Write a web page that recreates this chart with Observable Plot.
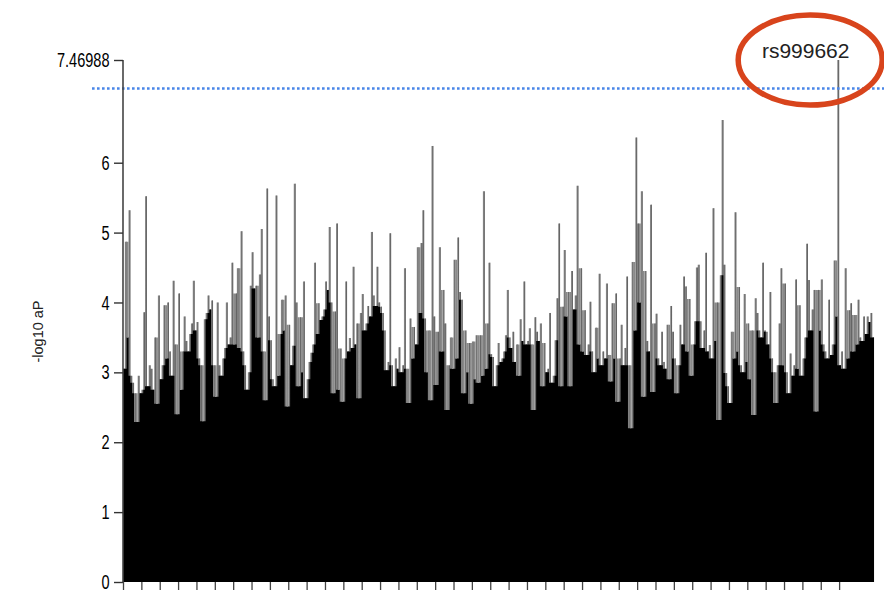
<!DOCTYPE html>
<html>
<head>
<meta charset="utf-8">
<script src="https://cdn.jsdelivr.net/npm/d3@7"></script>
<script src="https://cdn.jsdelivr.net/npm/@observablehq/plot@0.6"></script>
<style>
  html, body { margin: 0; padding: 0; background: #fff; }
  #chart { width: 884px; height: 593px; }
</style>
</head>
<body>
<div id="chart"></div>
<script>
// -log10 aP for each marker (409 markers, left to right)
const values = [
  3.05, 4.87, 3.5, 5.32, 2.95, 2.85, 2.7, 2.29, 2.95, 2.7,
  2.75, 3.86, 5.52, 2.8, 3.1, 3.05, 2.75, 3.5, 2.55, 4.1,
  2.9, 3.1, 3.96, 3.2, 4.0, 3.3, 2.95, 4.31, 3.4, 2.4,
  4.13, 2.75, 3.3, 3.8, 3.45, 3.3, 3.55, 3.7, 4.31, 3.6,
  3.72, 3.2, 3.1, 2.3, 3.76, 3.85, 4.1, 3.9, 4.03, 3.1,
  2.65, 4.0, 3.1, 2.95, 3.2, 3.35, 4.0, 3.4, 3.5, 4.57,
  3.4, 4.13, 4.49, 3.35, 5.02, 3.3, 3.1, 2.75, 3.0, 4.24,
  4.72, 4.2, 4.24, 3.5, 4.4, 5.05, 3.3, 2.6, 5.63, 3.8,
  3.46, 2.9, 2.8, 5.53, 2.95, 3.55, 4.04, 3.6, 4.1, 2.51,
  3.68, 3.1, 3.38, 5.7, 4.0, 2.8, 3.79, 3.0, 4.3, 2.63,
  2.9, 3.15, 3.28, 3.4, 4.57, 3.55, 3.99, 3.75, 3.8, 3.9,
  4.3, 4.18, 5.08, 4.0, 2.7, 3.87, 5.13, 2.75, 3.34, 2.58,
  3.2, 4.3, 3.3, 3.49, 3.35, 4.51, 3.4, 3.7, 2.63, 3.85,
  4.12, 3.6, 3.7, 3.95, 3.8, 5.01, 4.1, 3.95, 4.51, 4.0,
  3.94, 3.85, 3.6, 3.03, 3.15, 4.99, 3.1, 2.8, 3.2, 3.05,
  3.36, 3.0, 3.1, 4.49, 3.05, 2.56, 3.77, 3.2, 3.65, 3.4,
  4.79, 3.85, 4.85, 5.32, 3.77, 3.0, 3.6, 2.6, 6.24, 3.8,
  2.82, 3.58, 4.79, 3.3, 4.18, 3.7, 2.46, 3.1, 3.5, 3.05,
  4.61, 3.2, 4.93, 4.15, 4.04, 2.7, 3.6, 3.0, 3.42, 2.55,
  3.44, 2.9, 3.53, 2.85, 3.53, 2.95, 5.59, 3.05, 3.7, 4.57,
  3.26, 3.22, 2.8, 3.1, 3.42, 3.15, 3.2, 3.3, 3.53, 4.18,
  3.5, 3.35, 3.58, 3.15, 3.4, 2.95, 3.76, 3.45, 4.3, 3.4,
  3.45, 3.63, 3.4, 2.46, 3.79, 3.58, 3.45, 3.7, 2.8, 3.42,
  3.0, 3.05, 3.85, 2.85, 2.95, 3.46, 4.06, 5.13, 2.8, 3.94,
  4.75, 3.8, 4.15, 2.8, 4.45, 3.9, 4.1, 5.67, 3.4, 4.49,
  3.3, 3.89, 3.25, 3.4, 4.01, 3.3, 3.0, 3.64, 3.2, 4.41,
  3.1, 3.3, 3.2, 4.27, 3.25, 2.87, 3.99, 3.2, 4.13, 2.58,
  3.2, 3.68, 3.1, 3.35, 4.37, 3.1, 2.2, 4.58, 3.6, 6.36,
  5.13, 4.0, 5.59, 2.65, 4.45, 3.45, 3.3, 5.4, 2.72, 3.7,
  3.84, 3.2, 3.1, 3.58, 3.15, 3.05, 3.68, 2.9, 3.95, 3.58,
  3.2, 2.7, 3.1, 3.68, 3.4, 4.37, 4.23, 3.3, 4.05, 2.95,
  3.4, 3.73, 4.5, 4.54, 3.73, 3.35, 3.6, 4.71, 3.3, 3.39,
  3.2, 5.35, 3.45, 4.0, 2.32, 4.39, 6.61, 4.54, 2.99, 2.8,
  2.56, 3.58, 3.2, 5.29, 3.3, 4.22, 3.1, 3.0, 4.12, 3.15,
  3.7, 2.9, 3.6, 2.39, 4.06, 3.85, 3.6, 3.5, 4.57, 3.6,
  3.58, 3.4, 4.15, 3.2, 3.0, 2.56, 3.1, 3.7, 4.49, 3.1,
  4.27, 3.0, 2.7, 3.27, 2.95, 3.1, 4.33, 3.05, 3.96, 2.95,
  3.2, 3.5, 4.84, 4.32, 3.6, 3.9, 4.18, 2.44, 4.18, 3.6,
  4.33, 3.4, 3.3, 3.2, 4.04, 3.25, 3.4, 4.6, 3.8, 7.46988,
  3.1, 3.3, 3.05, 4.49, 3.2, 3.89, 3.99, 3.3, 3.82, 3.4,
  4.04, 3.5, 3.45, 3.8, 3.55, 3.8, 3.72, 3.85, 3.5
];
const yMax = 7.46988;
const yTicks = [0, 1, 2, 3, 4, 5, 6, 7.46988];
const yTickLabels = ["0", "1", "2", "3", "4", "5", "6", "7.46988"];
const xTicks = d3.range(0, 400, 10);
const threshold = 7.07;
const topSnp = { index: 389, name: "rs999662" };
const yLabel = "-log10 aP";

// Rendering layers: every column is drawn grey to its own height; the part that
// both neighbours also reach (the dense mass) is drawn solid black on top; a
// column much lower than both neighbours shows as a grey streak into the mass.
const n = values.length;
const rows = values.map((v, i) => {
  const l = i > 0 ? values[i - 1] : v;
  const r = i < n - 1 ? values[i + 1] : v;
  const lo = Math.min(l, r);
  return { i, v, black: Math.min(l, v, r), streak: lo - v > 0.35 ? lo : v };
});
rows.push({ ...rows[n - 1], i: n });

const sans = "'Liberation Sans', Arial, sans-serif";

const ellipseMark = (index, scales) => {
  const svgNS = "http://www.w3.org/2000/svg";
  const g = document.createElementNS(svgNS, "g");
  const e = document.createElementNS(svgNS, "ellipse");
  e.setAttribute("cx", scales.x(topSnp.index + 0.5) - 28);
  e.setAttribute("cy", scales.y(yMax));
  e.setAttribute("rx", 72);
  e.setAttribute("ry", 45);
  e.setAttribute("fill", "none");
  e.setAttribute("stroke", "#d8441c");
  e.setAttribute("stroke-width", 5.5);
  g.appendChild(e);
  return g;
};

const chart = Plot.plot({
  width: 884,
  height: 593,
  marginTop: 60,
  marginBottom: 11,
  marginLeft: 123,
  marginRight: 10,
  x: { domain: [0, n], axis: null },
  y: { domain: [0, yMax], axis: null },
  style: { background: "#fff", overflow: "visible" },
  marks: [
    Plot.areaY(rows, { x: "i", y: "v", curve: "step-after", fill: "#8a8a8a" }),
    Plot.ruleX(rows.slice(0, n), { x: d => d.i + 0.5, y1: 0, y2: "v", stroke: "#505050", strokeWidth: 0.7 }),
    Plot.areaY(rows, { x: "i", y: "black", curve: "step-after", fill: "#000" }),
    Plot.areaY(rows, { x: "i", y1: "v", y2: "streak", curve: "step-after", fill: "#8a8a8a" }),
    Plot.ruleY([threshold], {
      stroke: "#4a86e8", strokeWidth: 2.5, strokeDasharray: "2.6,2.4",
      insetLeft: -31, insetRight: -10
    }),
    Plot.ruleX([0], { y1: 0, y2: yMax, stroke: "#444", strokeWidth: 1.6, dx: -0.5 }),
    Plot.axisY({
      ticks: yTicks, tickSize: 9, tickPadding: 5, stroke: "#333", strokeWidth: 1.4,
      tickFormat: d => yTickLabels[yTicks.indexOf(d)],
      fontSize: 20.5, fontFamily: sans, fill: "#000", label: null
    }),
    Plot.axisX({
      ticks: xTicks, tickSize: 8, stroke: "#444", strokeWidth: 1.3,
      tickFormat: () => "", label: null
    }),
    Plot.text([yLabel], {
      frameAnchor: "left", textAnchor: "middle", dx: -85, dy: 10, rotate: -90,
      fontSize: 14.5, fontFamily: sans, fill: "#222"
    }),
    Plot.text([topSnp], {
      x: d => d.index + 0.5, y: yMax, text: "name", dx: -33, dy: -3,
      lineAnchor: "bottom", fontSize: 21, fontFamily: sans, fill: "#222"
    }),
    ellipseMark
  ]
});

document.getElementById("chart").appendChild(chart);

// condensed look of the original tick labels: squeeze them horizontally
// about their right-hand anchor point
const labelSet = new Set(yTickLabels);
chart.querySelectorAll("text").forEach(t => {
  if (t.querySelectorAll("tspan").length > 1) return;
  if (!labelSet.has(t.textContent.trim())) return;
  const bb = t.getBBox();
  const ax = bb.x + bb.width;
  const ay = bb.y + bb.height / 2;
  const prev = t.getAttribute("transform") || "";
  t.setAttribute("transform",
    `${prev} translate(${ax},${ay}) scale(0.71,1) translate(${-ax},${-ay})`);
});
</script>
</body>
</html>
